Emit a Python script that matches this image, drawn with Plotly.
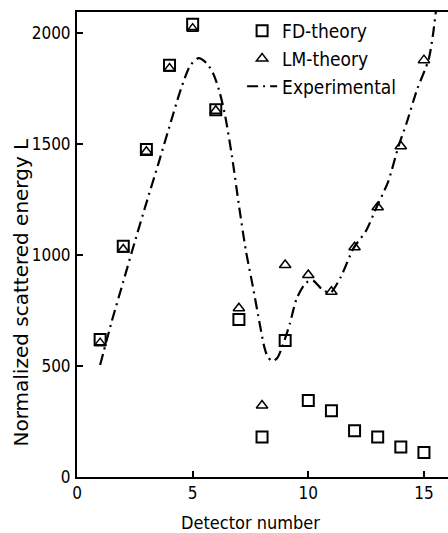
import plotly.graph_objects as go

detectors = list(range(1, 16))
fd_theory = [620, 1040, 1475, 1855, 2040, 1655, 710, 180, 615, 345, 298, 208, 180, 135, 110]
lm_theory = [603, 1025, 1465, 1840, 2020, 1650, 760, 322, 955, 910, 835, 1035, 1215, 1490, 1878]

exp_x = [1.0, 1.5, 2.0, 2.5, 3.0, 3.5, 4.0, 4.5, 4.9, 5.25, 5.6, 5.9, 6.15, 6.4, 6.7,
         7.0, 7.3, 7.6, 7.9, 8.1, 8.25, 8.45, 8.65, 8.85, 9.2, 9.5, 9.9, 10.2, 10.6, 10.95, 11.4,
         11.95, 12.5, 12.95, 13.45, 13.9, 14.25, 14.7, 15.2, 15.4, 15.55]
exp_y = [505, 700, 880, 1060, 1235, 1405, 1580, 1750, 1855, 1887, 1865, 1815, 1740, 1630, 1445,
         1225, 1020, 860, 690, 585, 540, 522, 535, 580, 690, 805, 875, 885, 845, 830, 900,
         1030, 1110, 1215, 1330, 1490, 1595, 1745, 1880, 2000, 2130]

x_ticks = [0, 5, 10, 15]
y_ticks = [0, 500, 1000, 1500, 2000]

FONT = "DejaVu Sans Condensed"

fig = go.Figure()
fig.add_trace(go.Scatter(
    x=detectors, y=fd_theory, mode="markers", name="FD-theory",
    marker=dict(symbol="square-open", size=11, color="black", line=dict(width=2, color="black")),
))
fig.add_trace(go.Scatter(
    x=detectors, y=lm_theory, mode="markers", name="LM-theory",
    marker=dict(symbol="triangle-up-open", size=10, color="black", line=dict(width=1.5, color="black")),
))
fig.add_trace(go.Scatter(
    x=exp_x, y=exp_y, mode="lines", name="Experimental",
    line=dict(color="black", width=2.2, dash="11px,5px,2px,5px", shape="spline", smoothing=0.7),
))

fig.update_layout(
    width=448, height=533,
    margin=dict(l=77, r=0, t=12, b=56),
    paper_bgcolor="white", plot_bgcolor="white",
    font=dict(family=FONT, size=17, color="black"),
    showlegend=True,
    legend=dict(
        x=0.445, y=1.0, xanchor="left", yanchor="top",
        bgcolor="rgba(0,0,0,0)", font=dict(family=FONT, size=19, color="black"),
        traceorder="normal",
    ),
    xaxis=dict(
        range=[0, 16.04], tickvals=x_ticks, ticktext=[str(v) for v in x_ticks],
        showgrid=False, zeroline=False, showline=True, linecolor="black", linewidth=2,
        mirror=True, ticks="inside", ticklen=6, tickwidth=1.5, tickcolor="black",
        tickfont=dict(family=FONT, size=17), ticklabelstandoff=0,
    ),
    yaxis=dict(
        range=[0, 2095], tickvals=y_ticks, ticktext=[str(v) for v in y_ticks],
        showgrid=False, zeroline=False, showline=True, linecolor="black", linewidth=2,
        ticks="inside", ticklen=6, tickwidth=1.5, tickcolor="black",
        tickfont=dict(family=FONT, size=17), ticklabelstandoff=1,
    ),
    annotations=[
        dict(text="Detector number", xref="paper", yref="paper",
             x=(250 - 77) / 371, y=(477 - 522) / 465, xanchor="center", yanchor="middle",
             showarrow=False, font=dict(family=FONT, size=18)),
        dict(text="Normalized scattered energy L", xref="paper", yref="paper",
             x=(20 - 77) / 371, y=(477 - 292.5) / 465, xanchor="center", yanchor="middle",
             textangle=-90, showarrow=False, font=dict(family="DejaVu Sans", size=20)),
    ],
)

fig.write_html("out.html")
